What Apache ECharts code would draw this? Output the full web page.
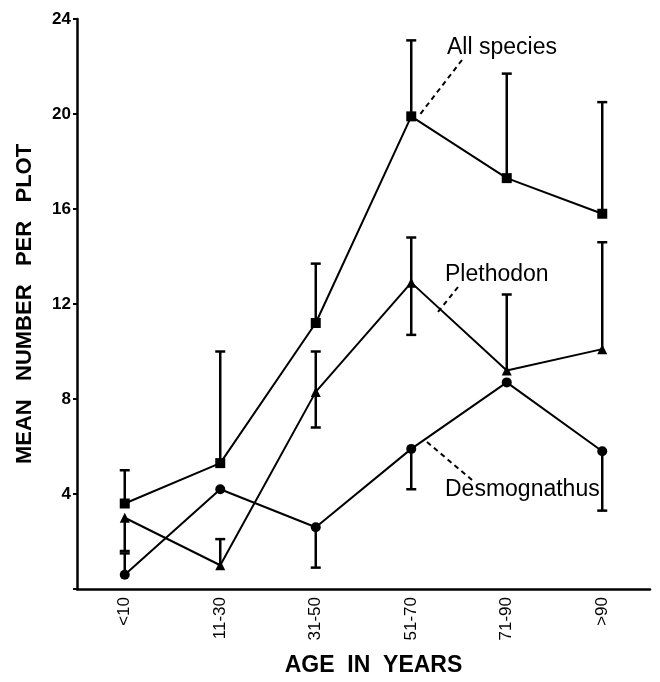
<!DOCTYPE html>
<html>
<head>
<meta charset="utf-8">
<script src="https://cdn.jsdelivr.net/npm/echarts@6/dist/echarts.min.js"></script>
<style>
  html, body { margin: 0; padding: 0; background: #fff; }
  #chart { width: 660px; height: 682px; }
</style>
</head>
<body>
<div id="chart"></div>
<script>
// age classes
var categories = ['<10', '11-30', '31-50', '51-70', '71-90', '>90'];
var yTicks = [0, 4, 8, 12, 16, 20, 24];

// means
var allSpecies = [3.6, 5.3, 11.2, 19.9, 17.3, 15.8];
var plethodon = [3.0, 1.0, 8.3, 12.9, 9.2, 10.1];
var desmognathus = [0.6, 4.2, 2.6, 5.9, 8.7, 5.8];

// error bar ends (null = not drawn)
var allHigh = [5.0, 10.0, 13.7, 23.1, 21.7, 20.5];
var plethLow = [1.6, null, 6.8, 10.7, null, null];
var plethHigh = [null, 2.1, 10.0, 14.8, 12.4, 14.6];
var desmLow = [null, null, 0.9, 4.2, null, 3.3];
var desmHigh = [1.5, null, null, null, null, null];

var FONT = 'Liberation Sans';

function errData(means, ends) {
  var out = [];
  ends.forEach(function (e, i) {
    if (e != null) out.push([i, means[i], e]);
  });
  return out;
}

var errRows = []
  .concat(errData(allSpecies, allHigh))
  .concat(errData(plethodon, plethLow))
  .concat(errData(plethodon, plethHigh))
  .concat(errData(desmognathus, desmLow))
  .concat(errData(desmognathus, desmHigh));

function lineSeries(name, data, symbol, size) {
  return {
    name: name,
    type: 'line',
    data: data,
    symbol: symbol,
    symbolSize: size,
    itemStyle: { color: '#000' },
    lineStyle: { color: '#000', width: 2 },
    z: 3
  };
}

var chart = echarts.init(document.getElementById('chart'));
var option = {
  animation: false,
  backgroundColor: '#fff',
  grid: { left: 77, right: 10, top: 19, bottom: 93 },
  xAxis: {
    type: 'category',
    data: categories,
    boundaryGap: true,
    name: 'AGE  IN  YEARS',
    nameLocation: 'middle',
    nameGap: 65,
    nameTextStyle: { fontFamily: FONT, fontSize: 23, fontWeight: 'bold', color: '#000', padding: [0, 0, 0, 20] },
    axisLine: { lineStyle: { color: '#000', width: 2.5 } },
    axisTick: { alignWithLabel: true, length: 5, lineStyle: { color: '#000', width: 2 } },
    axisLabel: { rotate: 90, margin: 8, fontFamily: FONT, fontSize: 17, color: '#000' }
  },
  yAxis: {
    type: 'value',
    min: 0,
    max: 24,
    interval: 4,
    name: 'MEAN   NUMBER   PER   PLOT',
    nameLocation: 'middle',
    nameRotate: 90,
    nameGap: 41,
    nameTextStyle: { fontFamily: FONT, fontSize: 22, fontWeight: 'bold', color: '#000' },
    splitLine: { show: false },
    axisLine: { show: true, lineStyle: { color: '#000', width: 2.5 } },
    axisTick: { show: true, length: 4, lineStyle: { color: '#000', width: 2 } },
    axisLabel: {
      margin: 6,
      fontFamily: FONT,
      fontSize: 17,
      fontWeight: 'bold',
      color: '#000',
      formatter: function (v) { return yTicks.indexOf(v) > 0 ? String(v) : ''; }
    }
  },
  series: [
    lineSeries('All species', allSpecies, 'rect', 10),
    lineSeries('Plethodon', plethodon, 'triangle', 10),
    lineSeries('Desmognathus', desmognathus, 'circle', 10),
    {
      type: 'custom',
      data: errRows,
      z: 2,
      renderItem: function (params, api) {
        var a = api.coord([api.value(0), api.value(1)]);
        var b = api.coord([api.value(0), api.value(2)]);
        var st = { stroke: '#000', lineWidth: 2.5 };
        return {
          type: 'group',
          children: [
            { type: 'line', shape: { x1: a[0], y1: a[1], x2: b[0], y2: b[1] }, style: st },
            { type: 'line', shape: { x1: b[0] - 5, y1: b[1], x2: b[0] + 5, y2: b[1] }, style: st }
          ]
        };
      }
    }
  ],
  graphic: [
    { type: 'text', left: 447, top: 36, style: { text: 'All species', font: '23px "Liberation Sans"', fill: '#000' } },
    { type: 'line', shape: { x1: 462, y1: 60, x2: 418, y2: 117 }, style: { stroke: '#000', lineWidth: 2, lineDash: [5, 4] } },
    { type: 'text', left: 445, top: 263, style: { text: 'Plethodon', font: '23px "Liberation Sans"', fill: '#000' } },
    { type: 'line', shape: { x1: 458, y1: 287, x2: 438, y2: 312 }, style: { stroke: '#000', lineWidth: 2, lineDash: [5, 4] } },
    { type: 'text', left: 445, top: 478, style: { text: 'Desmognathus', font: '23px "Liberation Sans"', fill: '#000' } },
    { type: 'line', shape: { x1: 427, y1: 442, x2: 472, y2: 480 }, style: { stroke: '#000', lineWidth: 2, lineDash: [5, 4] } }
  ]
};
chart.setOption(option);
</script>
</body>
</html>
